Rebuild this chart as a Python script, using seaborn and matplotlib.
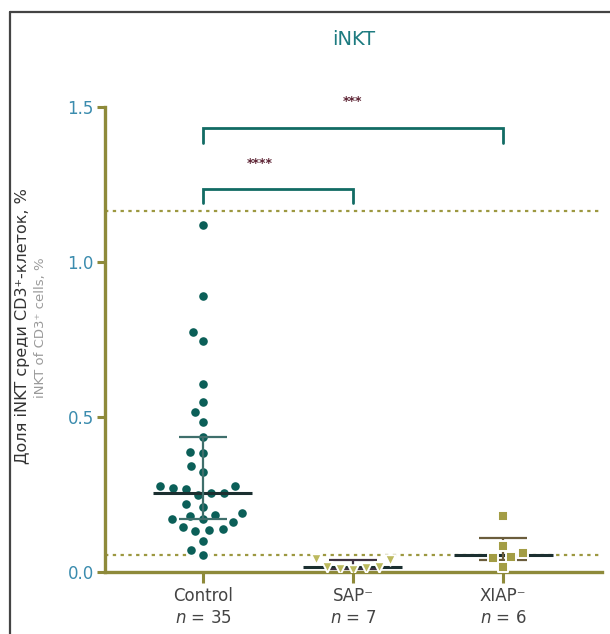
import numpy as np
import pandas as pd
import matplotlib
matplotlib.use("Agg")
import matplotlib.pyplot as plt
import seaborn as sns
from matplotlib.lines import Line2D

# %% data
groups = ["Control", "SAP", "XIAP"]
tick_labels = ["Control\n$n$ = 35", "SAP\u207b\n$n$ = 7", "XIAP\u207b\n$n$ = 6"]
control = [1.119, 0.890, 0.774, 0.746, 0.606, 0.549, 0.517, 0.485, 0.437,
           0.384, 0.388, 0.342, 0.324, 0.279, 0.279, 0.270, 0.267, 0.256,
           0.248, 0.254, 0.211, 0.219, 0.191, 0.181, 0.184, 0.170, 0.170,
           0.162, 0.138, 0.146, 0.132, 0.135, 0.100, 0.071, 0.054]
sap = [0.041, 0.039, 0.015, 0.012, 0.010, 0.006, 0.017]
xiap = [0.182, 0.085, 0.062, 0.049, 0.044, 0.017]
ref_lines = [1.165, 0.055]
brackets = [(0, 1, 1.235, 1.19, "****", 0.38, 1.32),
            (0, 2, 1.432, 1.385, "***", 1.0, 1.52)]

df = pd.DataFrame({
    "group": ["Control"] * len(control) + ["SAP"] * len(sap) + ["XIAP"] * len(xiap),
    "value": control + sap + xiap,
})

olive = "#8e8a3a"
teal = "#0b5f58"
colors = {"Control": teal, "SAP": "#bcb95e", "XIAP": "#a39d45"}
markers = {"Control": "o", "SAP": "v", "XIAP": "s"}
layers = {"Control": 3, "SAP": 5, "XIAP": 5}
bar_colors = {"Control": "#3f6f6c", "SAP": "#3d3040", "XIAP": "#6b5d3c"}

# %%
sns.set_style("white")
fig = plt.figure(figsize=(6.10, 6.34), dpi=100)
ax = fig.add_axes([0.172, 0.0978, 0.815, 0.733])

# white edge keeps the swarm loose like the original
for g in groups:
    sns.swarmplot(data=df[df["group"] == g], x="group", y="value", order=groups,
                  color=colors[g], marker=markers[g], size=7.6, linewidth=1.4,
                  edgecolor="white", ax=ax, zorder=layers[g])

# median and IQR
for i, g in enumerate(groups):
    vals = df.loc[df["group"] == g, "value"].to_numpy()
    q1, med, q3 = np.percentile(vals, [25, 50, 75], method="weibull")
    ax.hlines(med, i - 0.33, i + 0.33, color="#1b2f30", lw=2.2, zorder=4)
    ax.vlines(i, q1, q3, color=bar_colors[g], lw=1.6, zorder=4)
    ax.hlines([q1, q3], i - 0.16, i + 0.16, color=bar_colors[g], lw=1.6, zorder=4)

for y in ref_lines:
    ax.axhline(y, color="#9c9840", lw=1.6, ls=(0, (1.5, 2)), zorder=1)

# significance brackets
for x0, x1, top, foot, label, tx, ty in brackets:
    ax.plot([x0, x0, x1, x1], [foot, top, top, foot], color="#126b64", lw=2,
            clip_on=False, solid_joinstyle="miter")
    ax.text(tx, ty, label, ha="center", va="center", color="#5c2233",
            fontsize=9, fontweight="bold", clip_on=False)

ax.set_xlim(-0.653, 2.66)
ax.set_ylim(0, 1.5)
ax.set_yticks([0, 0.5, 1.0, 1.5])
ax.set_yticklabels(["0.0", "0.5", "1.0", "1.5"])
ax.set_xticks(range(3))
ax.set_xticklabels(tick_labels, color="#444444", fontsize=12, linespacing=1.25)
ax.set_xlabel("")
ax.set_ylabel("")
for lbl in ax.get_yticklabels():
    lbl.set_color("#3b8cae")
    lbl.set_fontsize(12)
ax.tick_params(axis="y", direction="out", length=6, width=2.2, color=olive, left=True, pad=2)
ax.tick_params(axis="x", direction="out", length=8, width=2.2, color=olive, bottom=True, pad=3)
sns.despine(ax=ax)
for s in ["left", "bottom"]:
    ax.spines[s].set_color(olive)
    ax.spines[s].set_linewidth(2.4)

fig.text(0.579, 0.937, "iNKT", ha="center", va="center", color="#1d7b80", fontsize=14)
fig.text(0.037, 0.486, "Доля iNKT среди CD3\u207a-клеток, %", rotation=90,
         ha="center", va="center", color="#333333", fontsize=11.5)
fig.text(0.066, 0.483, "iNKT of CD3\u207a cells, %", rotation=90,
         ha="center", va="center", color="#9a9a9a", fontsize=9.5)

# outer frame
fig.add_artist(Line2D([0.0165, 0.0165], [0.981, 0.0], color="#444444", lw=1.6))
fig.add_artist(Line2D([0.0165, 1.0], [0.981, 0.981], color="#444444", lw=1.6))

fig.savefig("out.png", dpi=100)
